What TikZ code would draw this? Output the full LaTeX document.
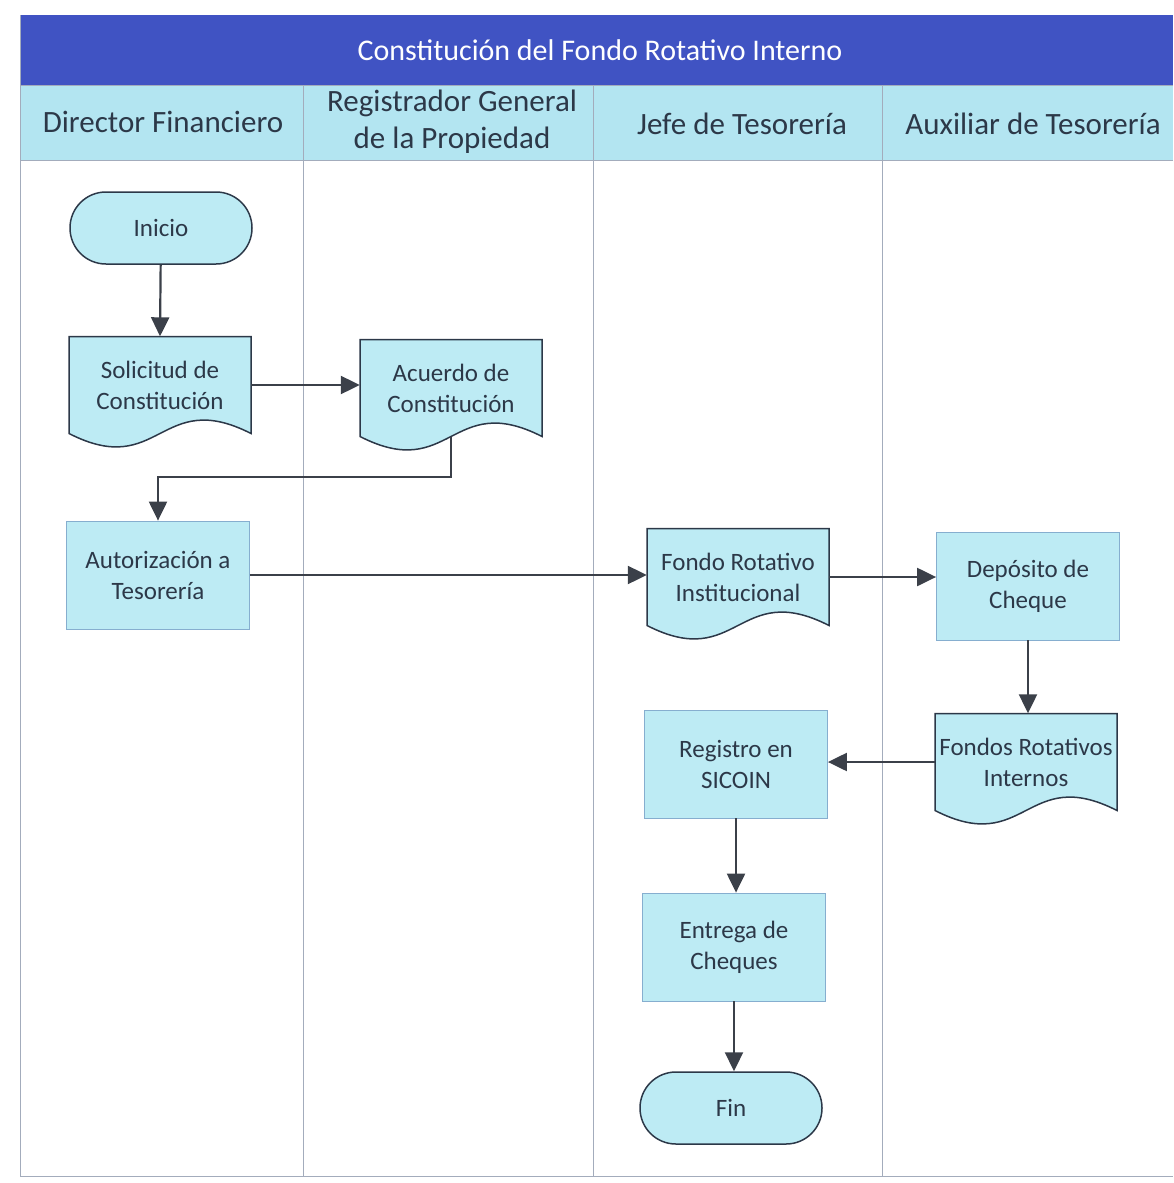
\documentclass[tikz,border=0pt]{standalone}
\usepackage{fontspec}
\setmainfont{Carlito}
\usetikzlibrary{positioning,calc,arrows.meta}
\definecolor{titleblue}{HTML}{4053C3}
\definecolor{headcyan}{HTML}{B3E5F1}
\definecolor{boxcyan}{HTML}{BDEBF4}
\definecolor{inkgray}{HTML}{2C3848}
\definecolor{lanegray}{HTML}{A3ACBC}
\definecolor{boxedge}{HTML}{86AECF}
\definecolor{flowgray}{HTML}{3B4049}
\tikzstyle{txt}=[text=inkgray,align=center,font=\fontsize{25}{31}\selectfont]
\tikzstyle{proc}=[txt,fill=boxcyan,draw=boxedge,line width=0.8pt,minimum width=183,minimum height=108]
\tikzstyle{term}=[txt,fill=boxcyan,draw=inkgray,line width=1.5pt,minimum width=182,minimum height=72,rounded corners=35.9]
\tikzstyle{doctxt}=[txt,minimum width=182,minimum height=97,inner sep=0pt]
\tikzstyle{docshape}=[fill=boxcyan,draw=inkgray,line width=1.5pt]
\tikzstyle{flow}=[draw=flowgray,line width=2.2pt,-{Triangle[width=18pt,length=19pt]}]
\tikzstyle{lane}=[draw=lanegray,line width=0.8pt]
\tikzstyle{head}=[text=inkgray,align=center,font=\fontsize{31}{37}\selectfont]
\newcommand{\newDoc}[3]{%
  \path[docshape] ($(#3)+(-91,-48.5)$) -- ($(#3)+(91,-48.5)$) -- ($(#3)+(91,48.5)$)
    .. controls ($(#3)+(0,2)$) and ($(#3)+(0,95)$) .. ($(#3)+(-91,48.5)$) -- cycle;
  \node[doctxt](#1) at (#3) {#2};}
\newcommand{\newFlow}[3]{\path[flow] (#1) #3 (#2);}

\begin{document}
\begin{tikzpicture}[x=1pt,y=-1pt]
      \useasboundingbox (0,0) rectangle (1173,1183);
      % lanes
      \fill[titleblue] (20,15) rectangle (1173,85);
      \fill[headcyan] (20,85) rectangle (1173,160);
      \draw[lane] (20,85) -- (1173,85) (20,160) -- (1173,160);
      \draw[lane] (20,15) -- (20,1176) -- (1173,1176);
      \foreach \x in {303,593,882}
        \draw[lane] (\x,85) -- (\x,1176);
      \node[text=white,font=\fontsize{30}{34}\selectfont] (title) at (600,50) {Constitución del Fondo Rotativo Interno};
      \node[head] (hdir) at (163,122) {Director Financiero};
      \node[head] (hreg) at (452,122) {Registrador General\\de la Propiedad};
      \node[head] (hjefe) at (742,124) {Jefe de Tesorería};
      \node[head] (haux) at (1033,124) {Auxiliar de Tesorería};
      % steps
      \node[term] (ini) at (161,228) {Inicio};
      \newDoc{sol}{Solicitud de\\Constitución}{160,385}
      \newDoc{acu}{Acuerdo de\\Constitución}{451,388}
      \node[proc] (aut) at (158,575) {Autorización a\\Tesorería};
      \newDoc{fri}{Fondo Rotativo\\Institucional}{738,577}
      \node[proc] (dep) at (1028,586) {Depósito de\\Cheque};
      \newDoc{fin}{Fondos Rotativos\\Internos}{1026,762}
      \node[proc] (sic) at (736,764) {Registro en\\SICOIN};
      \node[proc] (ent) at (734,947) {Entrega de\\Cheques};
      \node[term] (fin2) at (731,1108) {Fin};
      % flows
      \newFlow{ini}{sol.north}{--}
      \newFlow{sol.east}{sol.east -| acu.west}{--}
      \newFlow{acu.south}{aut.north}{-- ++(0,40) -|}
      \newFlow{aut.east}{aut.east -| fri.west}{--}
      \newFlow{fri.east}{fri.east -| dep.west}{--}
      \newFlow{dep.south}{dep.south |- fin.north}{--}
      \newFlow{fin.west}{fin.west -| sic.east}{--}
      \newFlow{sic.south}{sic.south |- ent.north}{--}
      \newFlow{ent.south}{ent.south |- fin2.north}{--}
\end{tikzpicture}
\end{document}
